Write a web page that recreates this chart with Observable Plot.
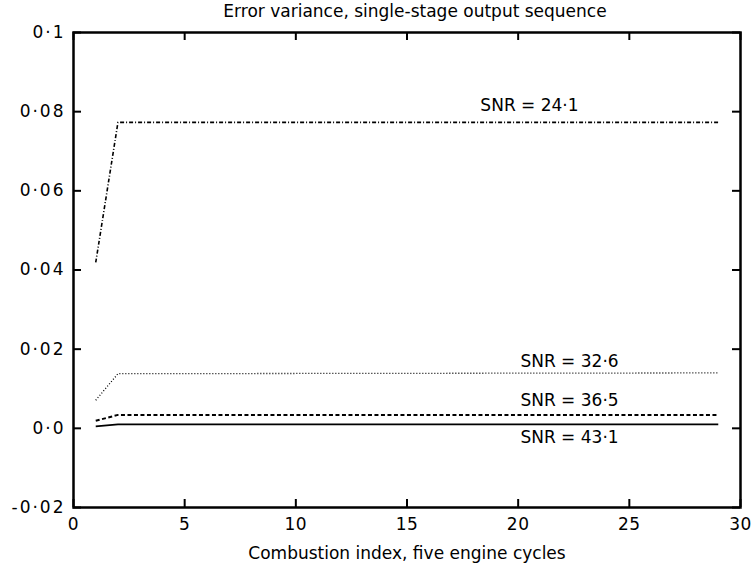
<!DOCTYPE html>
<html>
<head>
<meta charset="utf-8">
<script src="https://cdn.jsdelivr.net/npm/d3@7"></script>
<script src="https://cdn.jsdelivr.net/npm/@observablehq/plot@0.6"></script>
<style>
  html, body { margin: 0; padding: 0; background: #fff; }
  svg { font-family: "DejaVu Sans", sans-serif; }
  g[aria-label="y-axis tick label"] text { letter-spacing: 2px; }
  g[aria-label="x-axis tick label"] text { letter-spacing: 0.5px; }
</style>
</head>
<body>
<div id="chart"></div>
<script>
// ---- data ----
const titleText = "Error variance, single-stage output sequence";
const xLabelText = "Combustion index, five engine cycles";
const cycles = [1, 2, 29];
const seriesNames = ["SNR = 24·1", "SNR = 32·6", "SNR = 36·5", "SNR = 43·1"];
const snr241 = [0.0419, 0.0773, 0.0773];
const snr326 = [0.0071, 0.0138, 0.0140];
const snr365 = [0.0019, 0.0034, 0.0034];
const snr431 = [0.0005, 0.0010, 0.0010];
const seriesValues = [snr241, snr326, snr365, snr431];
const xTicks = [0, 5, 10, 15, 20, 25, 30];
const xTickLabels = ["0", "5", "10", "15", "20", "25", "30"];
const yTicks = [-0.02, 0, 0.02, 0.04, 0.06, 0.08, 0.1];
const yTickLabels = ["-0·02", "0·0", "0·02", "0·04", "0·06", "0·08", "0·1"];
// label anchors (annotation positions)
const labelX = [18.3, 20.1, 20.1, 20.1];
const labelDy = [-17, -11, -14, 13];

// ---- styles ----
const dashes = ["4,2,1,2", "1,2", "4,2.5", null];
const widths = [1.6, 1.3, 2, 1.6];

const rows = [];
seriesNames.forEach((name, s) => {
  cycles.forEach((c, i) => rows.push({series: name, s, x: c, y: seriesValues[s][i]}));
});

const W = 754, H = 572;
const mL = 73, mR = 14, mT = 32, mB = 65;
const plotH = H - mT - mB, plotW = W - mL - mR;
const tick = 8;

const marks = [];
seriesNames.forEach((name, s) => {
  marks.push(Plot.line(rows.filter(r => r.s === s), {
    x: "x", y: "y", stroke: "black", strokeWidth: widths[s],
    strokeDasharray: dashes[s] || undefined, strokeLinecap: "butt"
  }));
  const last = rows.filter(r => r.s === s).slice(-1)[0];
  marks.push(Plot.text([name], {
    x: () => labelX[s], y: () => last.y, text: d => d,
    textAnchor: "start", lineAnchor: "middle", dy: labelDy[s],
    fontSize: 17, fill: "black"
  }));
});

const chart = Plot.plot({
  width: W, height: H,
  marginLeft: mL, marginRight: mR, marginTop: mT, marginBottom: mB,
  style: {fontFamily: "DejaVu Sans, sans-serif", fontSize: "17px", color: "black", background: "white"},
  x: {domain: [0, 30]},
  y: {domain: [-0.02, 0.1]},
  marks: [
    Plot.axisX({ticks: xTicks, tickFormat: (d) => xTickLabels[xTicks.indexOf(d)], tickSize: 0, tickPadding: 10, label: null, fontSize: 17}),
    Plot.axisY({ticks: yTicks, tickFormat: (d) => yTickLabels[yTicks.findIndex(t => Math.abs(t - d) < 1e-9)], tickSize: 0, tickPadding: 8, label: null, fontSize: 17}),
    Plot.tickX(xTicks, {x: d => d, insetBottom: plotH - tick, strokeWidth: 2}),
    Plot.tickX(xTicks, {x: d => d, insetTop: plotH - tick, strokeWidth: 2}),
    Plot.tickY(yTicks, {y: d => d, insetLeft: plotW - tick, strokeWidth: 2}),
    Plot.tickY(yTicks, {y: d => d, insetRight: plotW - tick, strokeWidth: 2}),
    ...marks,
    Plot.frame({stroke: "black", strokeWidth: 2.5}),
    Plot.text([titleText], {frameAnchor: "top", dy: -21, dx: 8, text: d => d, lineAnchor: "middle", fontSize: 17, fill: "black"}),
    Plot.text([xLabelText], {frameAnchor: "bottom", dy: 46, text: d => d, lineAnchor: "middle", fontSize: 17, fill: "black", style: {letterSpacing: "0.6px"}})
  ]
});
document.getElementById("chart").appendChild(chart);
</script>
</body>
</html>
